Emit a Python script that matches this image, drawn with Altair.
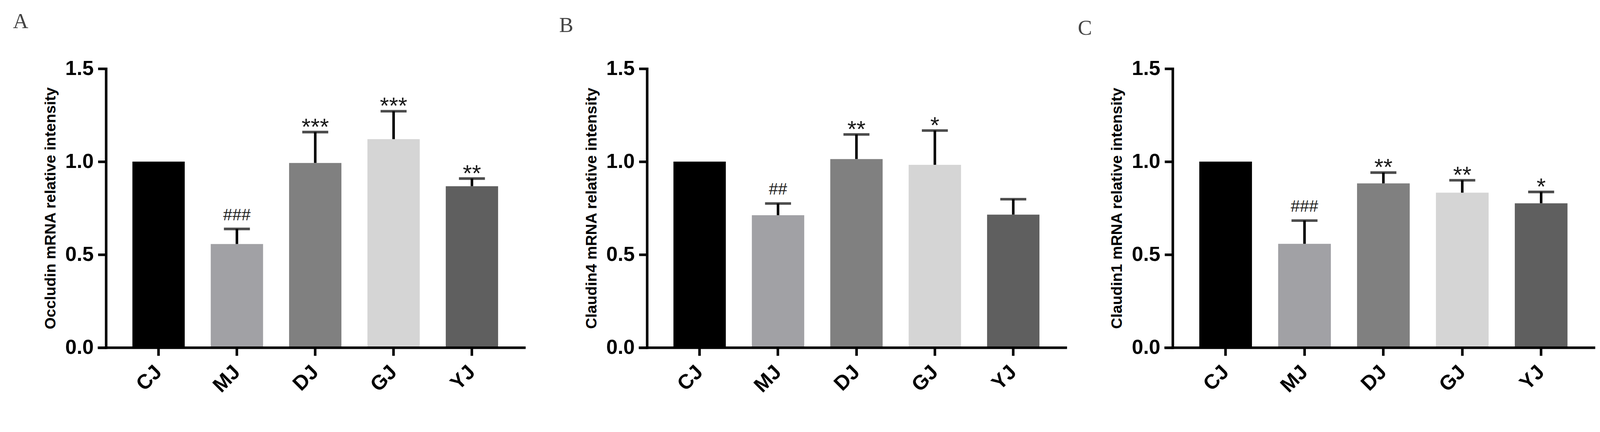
import altair as alt
import pandas as pd

# ---------------- data ----------------
groups = ["CJ", "MJ", "DJ", "GJ", "YJ"]
bar_colors = ["#000000", "#a1a1a5", "#808080", "#d5d5d5", "#5f5f5f"]
y_ticks = [0.0, 0.5, 1.0, 1.5]

panel_letters = ["A", "B", "C"]
panel_titles = [
    "Occludin mRNA relative intensity",
    "Claudin4 mRNA relative intensity",
    "Claudin1 mRNA relative intensity",
]

occludin_mean = [1.0, 0.557, 0.993, 1.121, 0.868]
occludin_upper = [None, 0.638, 1.159, 1.271, 0.909]
occludin_sig = ["", "###", "***", "***", "**"]

claudin4_mean = [1.0, 0.712, 1.014, 0.983, 0.715]
claudin4_upper = [None, 0.775, 1.146, 1.167, 0.798]
claudin4_sig = ["", "##", "**", "*", ""]

claudin1_mean = [1.0, 0.558, 0.883, 0.833, 0.776]
claudin1_upper = [None, 0.683, 0.941, 0.900, 0.837]
claudin1_sig = ["", "###", "**", "**", "*"]

SANS = "Liberation Sans"
SERIF = "Liberation Serif"
PLOT_H = 762


def panel(letter, title, means, uppers, sigs, width, letter_dx, letter_dy):
    df = pd.DataFrame({"group": groups, "mean": means, "upper": uppers, "sig": sigs})
    err = df.dropna(subset=["upper"]).copy()

    x_enc = alt.X(
        "group:N",
        sort=groups,
        title=None,
        scale=alt.Scale(paddingInner=0.332, paddingOuter=0.397, align=0.56),
        axis=alt.Axis(
            labelAngle=-45,
            labelAlign="right",
            labelBaseline="middle",
            labelFontSize=56,
            labelFont=SANS,
            labelFontWeight="bold",
            labelColor="black",
            labelPadding=36,
            tickSize=22,
            tickWidth=7,
            tickColor="black",
            domainWidth=7,
            domainColor="black",
            zindex=1,
        ),
    )
    y_scale = alt.Scale(domain=[0, 1.5], nice=False)
    y_axis = alt.Axis(
        values=y_ticks,
        format=".1f",
        grid=False,
        offset=-23,
        labelFontSize=56,
        labelFont=SANS,
        labelFontWeight="bold",
        labelColor="black",
        labelPadding=12,
        tickSize=22,
        tickWidth=7,
        tickColor="black",
        domainWidth=7,
        domainColor="black",
        domainCap="square",
        titleFont=SANS,
        titleFontSize=42,
        titleFontWeight="bold",
        titleColor="black",
        titlePadding=18,
        zindex=1,
    )

    bars = alt.Chart(df).mark_bar().encode(
        x=x_enc,
        y=alt.Y("mean:Q", scale=y_scale, axis=y_axis, title=title),
        color=alt.Color(
            "group:N", scale=alt.Scale(domain=groups, range=bar_colors), legend=None
        ),
    )
    stems = alt.Chart(err).mark_rule(strokeWidth=7, color="black").encode(
        x=x_enc,
        y=alt.Y("mean:Q", scale=y_scale, axis=y_axis, title=title),
        y2="upper:Q",
    )
    caps = alt.Chart(err).mark_tick(size=71, thickness=7, color="black").encode(
        x=x_enc,
        y=alt.Y("upper:Q", scale=y_scale, axis=y_axis, title=title),
    )
    hashes = (
        alt.Chart(err)
        .transform_filter("indexof(datum.sig, '#') >= 0")
        .mark_text(font=SANS, fontSize=45, dy=-24, baseline="alphabetic", color="#1a1a1a")
        .encode(
            x=x_enc,
            y=alt.Y("upper:Q", scale=y_scale, axis=y_axis, title=title),
            text="sig:N",
        )
    )
    stars = (
        alt.Chart(err)
        .transform_filter("indexof(datum.sig, '*') >= 0")
        .mark_text(font=SANS, fontSize=64, dy=7, baseline="alphabetic", color="#1a1a1a")
        .encode(
            x=x_enc,
            y=alt.Y("upper:Q", scale=y_scale, axis=y_axis, title=title),
            text="sig:N",
        )
    )
    letter_df = pd.DataFrame({"letter": [letter]})
    letter_mark = alt.Chart(letter_df).mark_text(
        font=SERIF, fontSize=58, align="left", baseline="alphabetic", color="#444444"
    ).encode(x=alt.value(letter_dx), y=alt.value(letter_dy), text="letter:N")
    # invisible anchor so every panel has the same top extent
    anchor = alt.Chart(letter_df).mark_text(
        font=SERIF, fontSize=58, align="left", baseline="alphabetic", opacity=0
    ).encode(x=alt.value(letter_dx), y=alt.value(-111), text="letter:N")

    return alt.layer(bars, stems, caps, hashes, stars, letter_mark, anchor).properties(
        width=width, height=PLOT_H
    )


pA = panel(panel_letters[0], panel_titles[0], occludin_mean, occludin_upper, occludin_sig, 1169, -231, -111)
pB = panel(panel_letters[1], panel_titles[1], claudin4_mean, claudin4_upper, claudin4_sig, 1170, -217, -100)
pC = panel(panel_letters[2], panel_titles[2], claudin1_mean, claudin1_upper, claudin1_sig, 1177, -236, -93)

inner = alt.hconcat(pA, pB, spacing=92)
chart = (
    alt.hconcat(inner, pC, spacing=30)
    .properties(padding={"left": 27, "top": -13, "right": 5, "bottom": 5}, background="white")
    .configure_view(stroke=None)
)

chart.save("out.html", embed_options={"renderer": "svg", "actions": False})
